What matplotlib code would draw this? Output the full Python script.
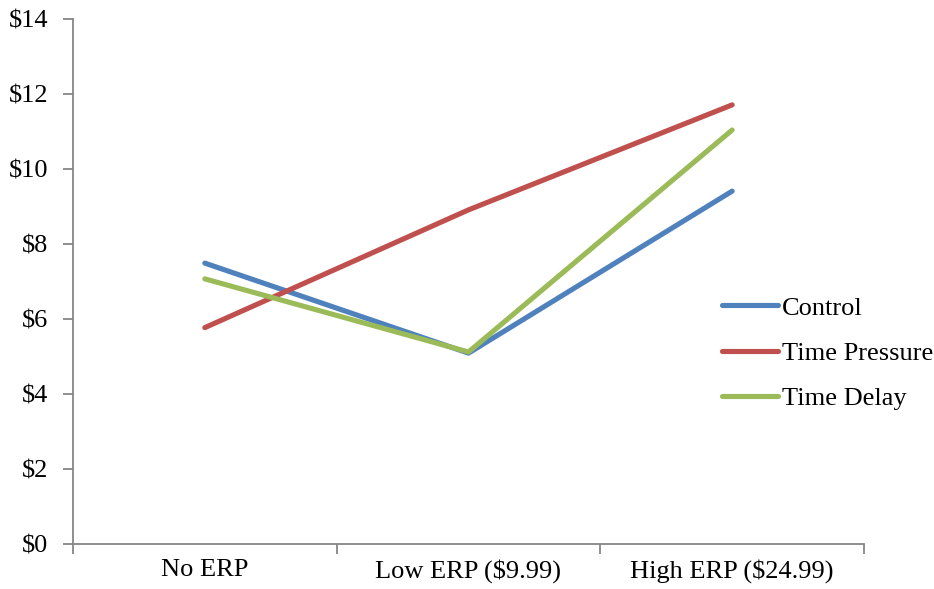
import matplotlib
matplotlib.use('Agg')
import matplotlib.pyplot as plt
import numpy as np

categories = ['No ERP', 'Low ERP ($9.99)', 'High ERP ($24.99)']
control = [7.49, 5.09, 9.41]
time_pressure = [5.77, 8.91, 11.71]
time_delay = [7.07, 5.12, 11.04]
series_names = ['Control', 'Time Pressure', 'Time Delay']
colors = ['#4F81BD', '#C0504D', '#9BBB59']
yticks = np.arange(0, 15, 2)

plt.rcParams['font.family'] = ['Liberation Serif', 'DejaVu Serif']

fig = plt.figure(figsize=(9.34, 5.89), dpi=100)
ax = fig.add_axes([73/934, 45/589, 791/934, 525/589])

x = np.arange(len(categories))
for vals, name, c in zip([control, time_pressure, time_delay], series_names, colors):
    ax.plot(x, vals, color=c, lw=3.7, label=name, solid_capstyle='round')

ax.set_xlim(-0.5, 2.5)
ax.set_ylim(0, 14)
ax.set_yticks(yticks)
ax.set_yticklabels(['$%d' % v for v in yticks], fontsize=19)
ax.set_xticks(x)
ax.set_xticklabels(categories, fontsize=19)
ax.tick_params(axis='x', length=0, pad=11)
ax.set_xticks([-0.5, 0.5, 1.5, 2.5], minor=True)
ax.tick_params(axis='x', which='minor', length=7, width=1.3, color='#868686', direction='out')
ax.tick_params(axis='y', length=7, width=1.3, color='#868686', direction='out', pad=11)

for side in ['top', 'right']:
    ax.spines[side].set_visible(False)
for side in ['left', 'bottom']:
    ax.spines[side].set_color('#868686')
    ax.spines[side].set_linewidth(1.3)

ax.legend(loc='center left', bbox_to_anchor=(722/934, 1 - 353/589),
          bbox_transform=fig.transFigure, frameon=False, fontsize=19,
          handlelength=2.12, handletextpad=0.15, borderpad=0, borderaxespad=0,
          labelspacing=0.82)

fig.savefig('out.png', dpi=100)
